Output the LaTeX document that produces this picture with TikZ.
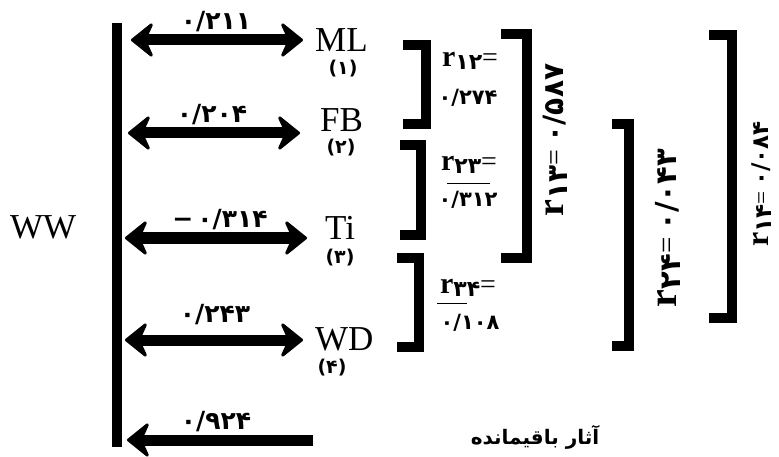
\documentclass[tikz,border=0pt]{standalone}
\usepackage{fontspec}
\setmainfont{Liberation Serif}
\newfontfamily\fa[Script=Arabic]{DejaVu Sans}
\newfontfamily\dv{DejaVu Sans}
\TeXXeTstate=1
\usetikzlibrary{arrows.meta}
\begin{document}
\begin{tikzpicture}[x=1pt,y=-1pt,
  fathead/.tip={Stealth[length=25pt,width=40pt,inset=9pt,round,line width=3pt]},
  dbl/.style={line width=11pt,{fathead}-{fathead}},
  sgl/.style={line width=11pt,-{fathead}},
  vbar/.style={line width=10pt},
  brk/.style={line width=10pt,line join=miter},
  lab/.style={font=\fa\bfseries\fontsize{25}{27}\selectfont,inner sep=0pt},
  slab/.style={font=\fa\bfseries\fontsize{21}{23}\selectfont,inner sep=0pt},
  var/.style={font=\fontsize{35}{38}\selectfont,inner sep=0pt},
  ord/.style={font=\fa\bfseries\fontsize{19}{21}\selectfont,inner sep=0pt},
  rlab/.style={font=\fontsize{22}{24}\selectfont,inner sep=0pt},
  fline/.style={line width=0.8pt}]
\useasboundingbox (0,0) rectangle (779,457);
% WW and vertical bar
\node[var,anchor=west] (WW) at (10,227) {WW};
\coordinate (bartop) at (117,23);
\coordinate (barbot) at (117,447);
\draw[vbar] (bartop) -- (barbot);
% variables
\node[var,anchor=west] (ML) at (315,40) {ML};
\node[var,anchor=west] (FB) at (320,120) {FB};
\node[var,anchor=west] (Ti) at (325,228) {Ti};
\node[var,anchor=west] (WD) at (315,339) {WD};
\node[ord] (o1) at (343,69) {(۱)};
\node[ord] (o2) at (341,148) {(۲)};
\node[ord] (o3) at (340,258) {(۳)};
\node[ord] (o4) at (332,368) {(۴)};
% arrow end points
\coordinate (s1) at (131,40);  \coordinate (e1) at (303,40);
\coordinate (s2) at (128,133); \coordinate (e2) at (300,133);
\coordinate (s3) at (125,238); \coordinate (e3) at (307,238);
\coordinate (s4) at (125,340); \coordinate (e4) at (303,340);
\coordinate (s5) at (127,440); \coordinate (r5) at (313,440);
\draw[dbl] (s1) -- (e1);
\draw[dbl] (s2) -- (e2);
\draw[dbl] (s3) -- (e3);
\draw[dbl] (s4) -- (e4);
\draw[sgl] (r5) -- (s5);
% coefficients
\node[lab] (c1) at (216,22) {۰/۲۱۱};
\node[lab] (c2) at (212,115) {۰/۲۰۴};
\node[lab] (c3) at (220,220) {{\dv\bfseries −}\,{\fa\bfseries ۰/۳۱۴}};
\node[lab] (c4) at (215,315) {۰/۲۴۳};
\node[lab] (c5) at (216,422) {۰/۹۲۴};
\node[font=\fa\bfseries\fontsize{20}{22}\selectfont,inner sep=0pt] (res) at (535,437) {\beginR آثار باقیمانده\endR};
% small brackets
\draw[brk] (403,45) -- (426,45) -- (426,124) -- (403,124);
\draw[brk] (400,145) -- (421,145) -- (421,235) -- (400,235);
\draw[brk] (397,258) -- (419,258) -- (419,347) -- (397,347);
% large brackets
\draw[brk] (501,34) -- (527,34) -- (527,258) -- (501,258);
\draw[brk] (612,124) -- (629,124) -- (629,346) -- (612,346);
\draw[brk] (709,35) -- (732,35) -- (732,318) -- (709,318);
% correlations in small brackets
\node[rlab] (r12) at (470,61) {\textbf{\fontsize{30}{30}\selectfont r}\raisebox{-3pt}{\fa\bfseries ۱۲}{\fontsize{28}{28}\selectfont =}};
\node[slab] (v12) at (468,98) {۰/۲۷۴};
\node[rlab] (r23) at (469,165) {\textbf{\fontsize{30}{30}\selectfont r}\raisebox{-3pt}{\fa\bfseries ۲۳}{\fontsize{28}{28}\selectfont =}};
\node[slab] (v23) at (468,200) {۰/۳۱۲};
\draw[fline] (447,183) -- (490,183);
\node[rlab] (r34) at (468,288) {\textbf{\fontsize{30}{30}\selectfont r}\raisebox{-3pt}{\fa\bfseries ۳۴}{\fontsize{28}{28}\selectfont =}};
\node[slab] (v34) at (470,323) {۰/۱۰۸};
\draw[fline] (437,303) -- (467,303);
% rotated correlations
\node[inner sep=0pt,rotate=90,font=\fontsize{28}{30}\selectfont] (r13) at (555,140) {\textbf{\fontsize{38}{38}\selectfont r}\raisebox{-4pt}{\fa\bfseries ۱۳}= {\fa\bfseries ۰/۵۸۷}};
\node[inner sep=0pt,rotate=90,font=\fontsize{29}{31}\selectfont] (r24) at (668,228) {\textbf{\fontsize{40}{40}\selectfont r}\raisebox{-4pt}{\fa\bfseries ۲۴}= {\fa\bfseries ۰/۰۴۳}};
\node[inner sep=0pt,rotate=90,font=\fontsize{23}{25}\selectfont] (r14) at (762,184) {\textbf{\fontsize{32}{32}\selectfont r}\raisebox{-3pt}{\fa\bfseries ۱۴}= {\fa\bfseries ۰/۰۸۴}};
\end{tikzpicture}
\end{document}
